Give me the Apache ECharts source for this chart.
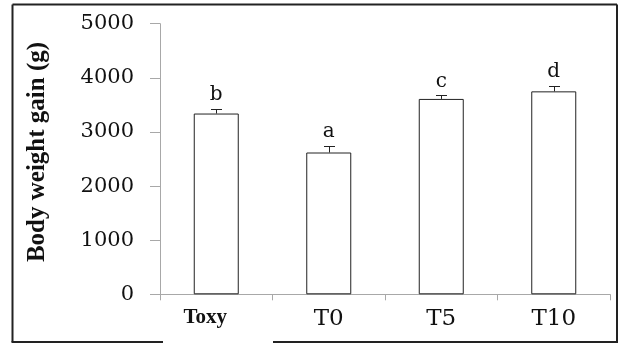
<!DOCTYPE html>
<html><head><meta charset="utf-8">
<script src="https://cdn.jsdelivr.net/npm/echarts/dist/echarts.min.js"></script>
<style>html,body{margin:0;padding:0;background:#fff}#c{width:621px;height:344px}</style>
</head><body><div id="c"></div>
<script>
// ---- data ----
const categories = ['Toxy', 'T0', 'T5', 'T10'];
const gainValues = [3340, 2620, 3610, 3750];
const gainErrors = [90, 125, 65, 100];
const groupLetters = ['b', 'a', 'c', 'd'];
const yMin = 0, yMax = 5000, yStep = 1000;
const yTitle = 'Body weight gain (g)';

const chart = echarts.init(document.getElementById('c'), null, {renderer: 'canvas'});
const axisGray = '#a8a8a8';
const ink = '#111';
const frame = '#222';

chart.setOption({
  animation: false,
  backgroundColor: '#fff',
  grid: {left: 160, right: 11, top: 23.7, bottom: 49.7, containLabel: false, outerBoundsMode: 'none'},
  xAxis: {
    type: 'category',
    data: categories,
    axisLine: {show: true, lineStyle: {color: axisGray, width: 1}},
    axisTick: {show: true, length: 6, lineStyle: {color: axisGray}},
    axisLabel: {
      interval: 0, hideOverlap: false,
      margin: 13, fontFamily: 'DejaVu Serif', fontSize: 23, color: ink,
      formatter: v => v === categories[0] ? '{t|' + v + '}' : v,
      rich: {t: {fontFamily: 'Liberation Serif', fontWeight: 'bold', fontSize: 21, color: ink, padding: [0, 22, 0, 0]}}
    },
    splitLine: {show: false}
  },
  yAxis: {
    type: 'value', min: yMin, max: yMax, interval: yStep,
    name: yTitle, nameLocation: 'middle', nameGap: 110,
    nameTextStyle: {fontFamily: 'Liberation Serif', fontWeight: 'bold', fontSize: 25, color: ink, padding: [0, 0, 0, 14]},
    axisLine: {show: true, lineStyle: {color: axisGray, width: 1}},
    axisTick: {show: true, length: 10, lineStyle: {color: axisGray}},
    axisLabel: {margin: 26, fontFamily: 'DejaVu Serif', fontSize: 21, color: ink, formatter: v => String(v)},
    splitLine: {show: false}
  },
  series: [
    {
      type: 'bar',
      data: gainValues,
      barWidth: '40%',
      itemStyle: {color: '#fff', borderColor: '#222', borderWidth: 1}
    },
    {
      type: 'custom',
      data: categories.map((c, i) => [i, gainValues[i], gainErrors[i]]),
      encode: {x: 0, y: 1},
      z: 5,
      renderItem: function (params, api) {
        const i = api.value(0), v = api.value(1), e = api.value(2);
        const top = api.coord([i, v + e]);
        const base = api.coord([i, v]);
        const x = Math.round(top[0]) + 0.5;
        const yt = Math.round(top[1]) + 0.5;
        const hw = 5.5;
        return {
          type: 'group',
          children: [
            {type: 'line', shape: {x1: x, y1: base[1], x2: x, y2: yt}, style: {stroke: '#222', lineWidth: 1}},
            {type: 'line', shape: {x1: x - hw, y1: yt, x2: x + hw, y2: yt}, style: {stroke: '#222', lineWidth: 1}},
            {type: 'text', x: top[0], y: top[1] - 4,
              style: {text: groupLetters[params.dataIndex], align: 'center', verticalAlign: 'bottom',
                fontFamily: 'DejaVu Serif', fontSize: 20, fill: ink}}
          ]
        };
      }
    }
  ],
  graphic: [
    {type: 'line', shape: {x1: 12.5, y1: 4.5, x2: 617, y2: 4.5}, style: {stroke: frame, lineWidth: 2}},
    {type: 'line', shape: {x1: 12.5, y1: 4.5, x2: 12.5, y2: 342}, style: {stroke: frame, lineWidth: 2}},
    {type: 'line', shape: {x1: 617, y1: 4.5, x2: 617, y2: 342}, style: {stroke: frame, lineWidth: 2}},
    {type: 'line', shape: {x1: 11.5, y1: 342, x2: 163, y2: 342}, style: {stroke: frame, lineWidth: 2}},
    {type: 'line', shape: {x1: 273, y1: 342, x2: 618, y2: 342}, style: {stroke: frame, lineWidth: 2}}
  ]
});
</script>
</body></html>
